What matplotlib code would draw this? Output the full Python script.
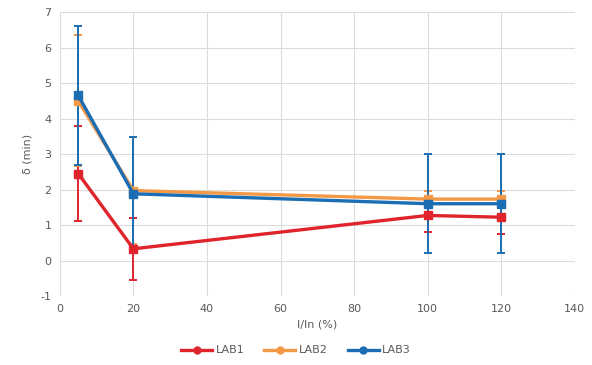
import matplotlib
matplotlib.use("Agg")
import matplotlib.pyplot as plt
from matplotlib.lines import Line2D

plt.rcParams["axes.unicode_minus"] = False

x = [5, 20, 100, 120]

lab1 = [2.45, 0.33, 1.27, 1.22]
lab1_err = [1.33, 0.87, 0.48, 0.47]

lab2 = [4.50, 1.97, 1.73, 1.73]
lab2_err = [1.85, 1.50, 0.23, 0.23]

lab3 = [4.65, 1.88, 1.60, 1.60]
lab3_err = [1.95, 1.60, 1.40, 1.40]

names = ["LAB1", "LAB2", "LAB3"]
colors = ["#E0242C", "#F39845", "#1B6EB4"]

fig = plt.figure(figsize=(5.92, 3.65), dpi=100)
ax = fig.add_axes([0.101, 0.189, 0.870, 0.778])

for vals, err, c in zip([lab1, lab2, lab3], [lab1_err, lab2_err, lab3_err], colors):
    ax.errorbar(x, vals, yerr=err, color=c, lw=2.4, marker="s", ms=5.5,
                elinewidth=1.4, capsize=3, capthick=1.4, zorder=3)

ax.set_xlim(0, 140)
ax.set_ylim(-1, 7)
ax.set_xticks(range(0, 141, 20))
ax.set_yticks(range(-1, 8))
ax.grid(True, color="#DCDCDC", lw=0.8)
ax.set_axisbelow(True)
for s in ax.spines.values():
    s.set_visible(False)
ax.tick_params(length=0, labelsize=8, colors="#595959", pad=6)

ax.set_xlabel("I/In (%)", fontsize=8, color="#595959", labelpad=4)
ax.set_ylabel("\u03b4\u0304 (min)", fontsize=8, color="#595959", labelpad=6)

handles = [Line2D([], [], color=c, lw=2.4, marker="o", ms=5) for c in colors]
fig.legend(handles, names, loc="center", bbox_to_anchor=(0.5, 0.04), ncol=3,
           frameon=False, fontsize=8, labelcolor="#595959", handlelength=2.8,
           columnspacing=1.8, handletextpad=0.3)

fig.savefig("out.png", dpi=100)
